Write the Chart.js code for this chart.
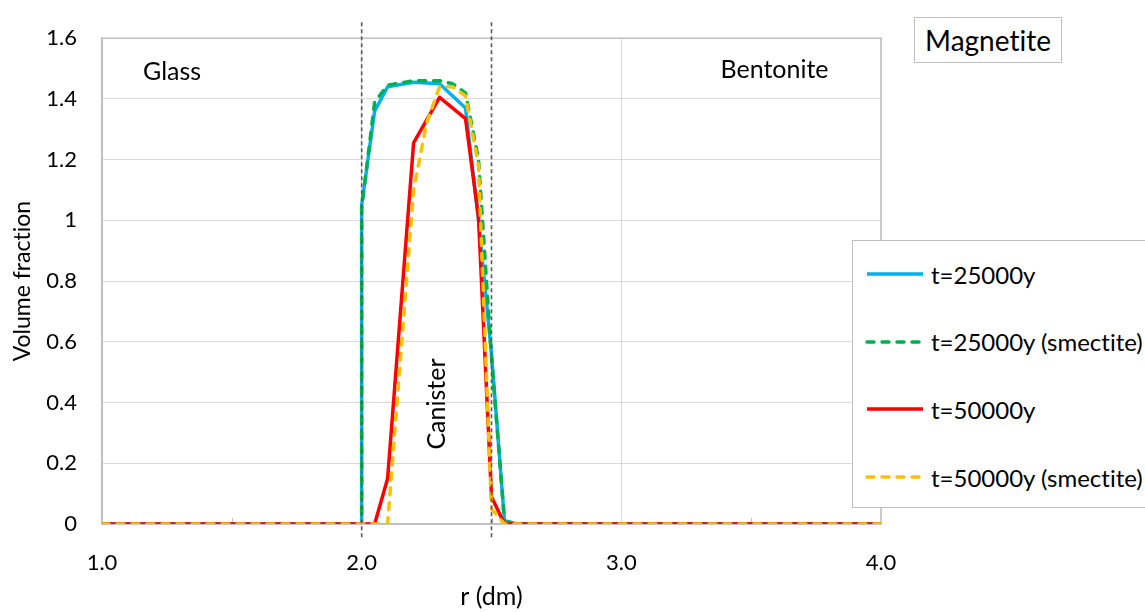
<!DOCTYPE html>
<html lang="en">
<head>
<meta charset="UTF-8" />
<title>Magnetite - volume fraction</title>
<script src="https://cdn.jsdelivr.net/npm/chart.js"></script>
<style>
  body { margin: 0; background: #fff; font-family: Lato, sans-serif; font-variant-ligatures: none; }
  #wrap { position: relative; width: 1145px; height: 612px; overflow: hidden; }
  #chart { position: absolute; left: 0; top: 0; }
  .mag-box {
    position: absolute; left: 914px; top: 17px; width: 146px; height: 44px;
    border: 1px solid #bfbfbf; background: #fff;
    font-size: 28px; line-height: 44px; text-align: center; color: #000;
  }
  .legend {
    position: absolute; left: 852px; top: 240px; width: 320px; height: 266px;
    border: 1.5px solid #bfbfbf; background: #fff;
  }
  .legend .row { position: absolute; left: 12px; height: 30px; display: flex; align-items: center; }
  .legend svg { width: 60px; height: 8px; margin-right: 6px; }
  .legend span { font-size: 24px; color: #000; white-space: nowrap; }
</style>
</head>
<body>
<div id="wrap">
  <canvas id="chart" width="1145" height="612"></canvas>
  <div class="mag-box">Magnetite</div>
  <div class="legend" id="legend"></div>
</div>

<script>
  // t=25000y
  const rBlue = [1.0, 2.0, 2.0, 2.05, 2.1, 2.2, 2.3, 2.4, 2.45, 2.5, 2.55, 2.6, 4.0];
  const vBlue = [0, 0, 1.05, 1.36, 1.44, 1.455, 1.45, 1.37, 1.0, 0.56, 0.01, 0, 0];
  // t=25000y (smectite)
  const rGreen = [1.0, 2.0, 2.0, 2.05, 2.1, 2.2, 2.3, 2.35, 2.4, 2.45, 2.5, 2.55, 2.6, 4.0];
  const vGreen = [0, 0, 1.04, 1.39, 1.445, 1.46, 1.46, 1.45, 1.42, 1.2, 0.55, 0.01, 0, 0];
  // t=50000y
  const rRed = [1.0, 2.05, 2.1, 2.2, 2.3, 2.4, 2.45, 2.5, 2.55, 4.0];
  const vRed = [0, 0, 0.15, 1.255, 1.405, 1.335, 1.01, 0.09, 0, 0];
  // t=50000y (smectite)
  const rYellow = [1.0, 2.1, 2.15, 2.2, 2.25, 2.3, 2.35, 2.4, 2.45, 2.5, 2.55, 4.0];
  const vYellow = [0, 0, 0.55, 1.1, 1.32, 1.44, 1.44, 1.41, 1.18, 0.05, 0, 0];

  const seriesNames = ["t=25000y", "t=25000y (smectite)", "t=50000y", "t=50000y (smectite)"];
  const seriesColors = ["#00b0f0", "#00b050", "#ff0000", "#ffc000"];
  const seriesDashed = [false, true, false, true];

  const yTicks = [0, 0.2, 0.4, 0.6, 0.8, 1, 1.2, 1.4, 1.6];
  const yTickLabels = ["0", "0.2", "0.4", "0.6", "0.8", "1", "1.2", "1.4", "1.6"];
  const xTicks = [1, 2, 3, 4];
  const xTickLabels = ["1.0", "2.0", "3.0", "4.0"];
  const xMinorTicks = [1.5, 2.5, 3.5];

  // zone boundaries (dashed) and zone labels
  const boundaries = [2.0, 2.5];
  const zoneLabels = [
    { text: "Glass", r: 1.27, v: 1.49, rot: 0 },
    { text: "Bentonite", r: 3.59, v: 1.495, rot: 0 },
    { text: "Canister", r: 2.29, v: 0.395, rot: -Math.PI / 2 }
  ];

  const FONT = "Lato, sans-serif";

  function pts(rs, vs) {
    return rs.map((r, i) => ({ x: r, y: vs[i] }));
  }

  const allR = [rBlue, rGreen, rRed, rYellow];
  const allV = [vBlue, vGreen, vRed, vYellow];

  const datasets = seriesNames.map((name, i) => ({
    label: name,
    data: pts(allR[i], allV[i]),
    borderColor: seriesColors[i],
    backgroundColor: seriesColors[i],
    borderWidth: 3.5,
    borderDash: seriesDashed[i] ? [7, 8] : [],
    borderCapStyle: seriesDashed[i] ? "round" : "butt",
    borderJoinStyle: "round",
    pointRadius: 0,
    tension: 0,
    order: 3 - i
  }));

  const decor = {
    id: "decor",
    beforeDatasetsDraw(chart) {
      const { ctx, chartArea: a, scales: { x } } = chart;
      ctx.save();
      ctx.strokeStyle = "#bfbfbf";
      ctx.lineWidth = 1.5;
      ctx.strokeRect(a.left, a.top, a.right - a.left, a.bottom - a.top);
      ctx.lineWidth = 1;
      xMinorTicks.forEach(v => {
        const px = Math.round(x.getPixelForValue(v)) + 0.5;
        ctx.beginPath();
        ctx.moveTo(px, a.bottom);
        ctx.lineTo(px, a.bottom - 6);
        ctx.stroke();
      });
      ctx.restore();
    },
    afterDatasetsDraw(chart) {
      const { ctx, chartArea: a, scales: { x, y } } = chart;
      ctx.save();
      ctx.strokeStyle = "#595959";
      ctx.lineWidth = 1.6;
      ctx.setLineDash([4, 3]);
      boundaries.forEach(v => {
        const px = x.getPixelForValue(v);
        ctx.beginPath();
        ctx.moveTo(px, a.top - 16);
        ctx.lineTo(px, a.bottom + 15);
        ctx.stroke();
      });
      ctx.setLineDash([]);
      ctx.fillStyle = "#000";
      ctx.font = "25px " + FONT;
      ctx.textAlign = "center";
      ctx.textBaseline = "middle";
      zoneLabels.forEach(l => {
        ctx.save();
        ctx.translate(x.getPixelForValue(l.r), y.getPixelForValue(l.v));
        ctx.rotate(l.rot);
        ctx.fillText(l.text, 0, 0);
        ctx.restore();
      });
      ctx.restore();
    }
  };

  new Chart(document.getElementById("chart"), {
    type: "line",
    data: { datasets },
    plugins: [decor],
    options: {
      responsive: false,
      animation: false,
      devicePixelRatio: 1,
      layout: { padding: { left: 0, right: 264, top: 38, bottom: 0 } },
      plugins: { legend: { display: false }, tooltip: { enabled: false } },
      scales: {
        x: {
          type: "linear",
          min: 1, max: 4,
          afterBuildTicks: s => { s.ticks = xTicks.map(v => ({ value: v })); },
          afterFit: s => { s.height = 88; },
          ticks: {
            callback: (v, i) => xTickLabels[i],
            font: { family: FONT, size: 22 },
            color: "#000",
            padding: 26,
            maxRotation: 0
          },
          grid: { color: "#d9d9d9", drawTicks: false },
          border: { color: "#bfbfbf", width: 1.5 },
          title: {
            display: true, text: "r (dm)",
            font: { family: FONT, size: 25 }, color: "#000",
            padding: { top: 0, bottom: 0 }
          }
        },
        y: {
          min: 0, max: 1.6,
          afterBuildTicks: s => { s.ticks = yTicks.map(v => ({ value: v })); },
          afterFit: s => { s.width = 102; },
          ticks: {
            callback: (v, i) => yTickLabels[i],
            font: { family: FONT, size: 22 },
            color: "#000",
            padding: 25
          },
          grid: { color: "#d9d9d9", drawTicks: false },
          border: { color: "#bfbfbf", width: 1.5 },
          title: {
            display: true, text: "Volume fraction",
            font: { family: FONT, size: 23 }, color: "#000",
            padding: { top: 9, bottom: 0 }
          }
        }
      }
    }
  });

  // legend
  const legend = document.getElementById("legend");
  seriesNames.forEach((name, i) => {
    const row = document.createElement("div");
    row.className = "row";
    row.style.top = (18 + i * 67.7) + "px";
    const dash = seriesDashed[i] ? 'stroke-dasharray="7 8" stroke-linecap="round"' : "";
    row.innerHTML =
      '<svg viewBox="0 0 60 8"><line x1="2" y1="4" x2="58" y2="4" stroke="' + seriesColors[i] +
      '" stroke-width="3.5" ' + dash + '/></svg><span>' + name + '</span>';
    legend.appendChild(row);
  });
</script>
</body>
</html>
